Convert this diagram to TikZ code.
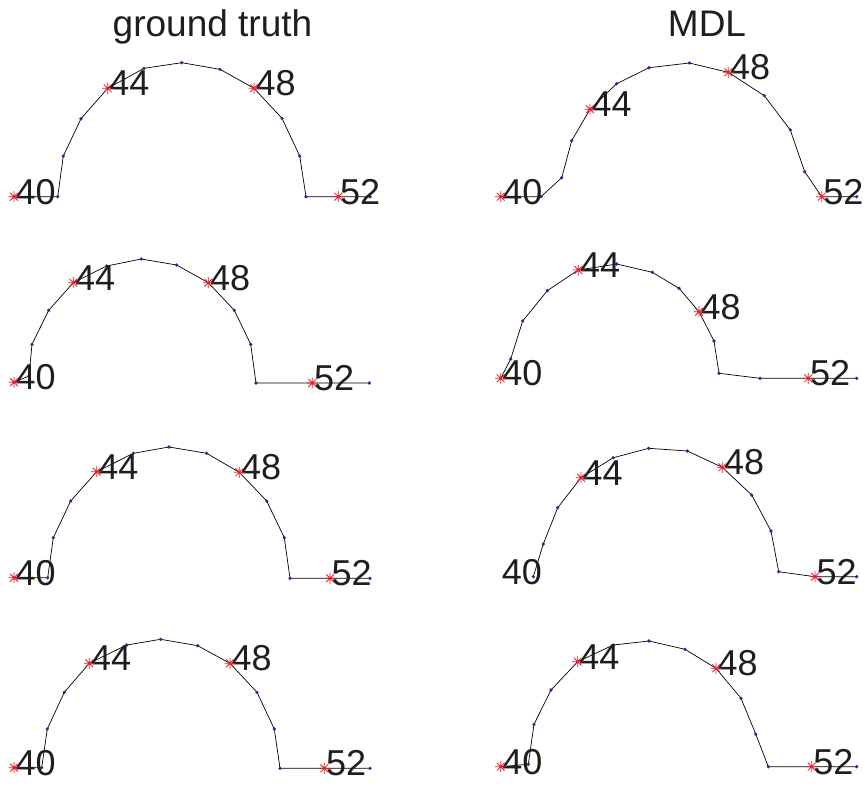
\documentclass[tikz,border=0pt]{standalone}
\usepackage{fontspec}
\setmainfont{Liberation Sans}
\definecolor{dotblue}{RGB}{40,40,150}
\definecolor{starred}{RGB}{232,30,40}
\definecolor{txt}{RGB}{30,30,30}
\newcommand\curvepanel[2]{%
  \foreach \xx/\yy [count=\k from 0] in {#2} {\coordinate (#1p\k) at (\xx,\yy);}
  \draw[curve] (#1p0) -- (#1p1) -- (#1p2) -- (#1p3) -- (#1p4) -- (#1p5) -- (#1p6) -- (#1p7) -- (#1p8) -- (#1p9) -- (#1p10) -- (#1p11) -- (#1p12) -- (#1p13);
  \foreach \k in {1,2,3,5,6,7,9,10,11,13} {\node[dot] (#1d\k) at (#1p\k) {};}
  \node[lbl] (#1l40) at (#1p0) {40};
  \node[lbl] (#1l44) at (#1p4) {44};
  \node[lbl] (#1l48) at (#1p8) {48};
  \node[lbl] (#1l52) at (#1p12) {52};
  \foreach \k in {0,4,8,12} {\pic at (#1p\k) {ast};}
}
\begin{document}
\begin{tikzpicture}[x=1pt,y=-1pt,
  curve/.style={black,line width=0.7pt},
  dot/.style={circle,fill=dotblue,draw=none,inner sep=0pt,minimum size=3.6pt},
  lbl/.style={anchor=base west,font=\fontsize{36}{40}\selectfont,text=txt,inner sep=0pt,xshift=1.5pt,yshift=-7.5pt},
  ttl/.style={anchor=base,font=\fontsize{37}{42}\selectfont,text=txt,inner sep=0pt},
  ast/.pic={\draw[starred,line width=0.8pt] (-5.5,0)--(5.5,0) (0,-5.5)--(0,5.5) (-3.9,-3.9)--(3.9,3.9) (-3.9,3.9)--(3.9,-3.9);}]
\useasboundingbox (0,0) rectangle (865,785);
\fill[white] (0,0) rectangle (865,785);

\node[ttl] (t1) at (212.5,36.7) {ground truth};
\node[ttl] (t2) at (707,36.7) {MDL};

% panel 1
\curvepanel{a}{14/196.7,57.7/196.7,63.3/156,81/118.7,107.7/88.3,144/68.3,181.7/62.7,220/69.3,254/88.3,282/118.3,299.7/156,306/196.7,338.3/196.7,370/196.7}
% panel 2
\curvepanel{b}{500.7/196.7,541/196.7,561.7/177.7,571.7/140.7,590/109.3,616.7/83.7,649/67.7,689.3/63,728.3/72.3,764.3/95.7,790.3/130,804.7/171.7,821.7/196.7,856.7/196.7}
% panel 3
\curvepanel{c}{14/382.3,29/376,32/344.3,48.7/310.3,73.3/282.7,106.7/266,141.3/259,176.7/265,208.3/282.7,234.3/310.3,250.7/344.3,256/383,312.3/383,369.3/383}
% panel 4
\curvepanel{d}{500.7/378.3,510.7/359,522.7/321,547.3/290.7,578.3/270,616.7/264,652.3/272.3,679/288.3,699/311.7,714/341,719/373.3,760/378.3,808.3/378.3,856.7/378.3}
% panel 5
\curvepanel{e}{14/577.7,47.7/577.7,53.3/537.7,70.7/501,96.7/471.7,133.3/453.3,169/447,206.7/453.3,239.3/472.3,266.7/501,284.3/537.7,290/578.3,330/578.3,370/578.3}
% panel 7
\curvepanel{g}{14/767.7,41.7/767.7,47.3/729,64.3/692.3,89.3/663.3,126.7/645,160.7/639.3,197.7/645.7,230/663.3,257/692.3,274.3/729,280/768.3,324.3/768.3,370/768.3}
% panel 8
\curvepanel{h}{500.7/766.7,528.3/764.3,534/724.3,551/690,577.7/661.7,613.3/645,649/641,685/649.3,716/668.3,741/698.3,755.7/734,768.3/766.7,811.7/766.7,856.7/766.7}

% panel 6 (no marker at 40)
\foreach \xx/\yy [count=\k from 1] in {533.3/576.7,543.3/544,557.7/507.7,581/477.7,613.3/457.7,648.7/448.3,687.3/451,722.3/467.3,751.7/495,771/531,778.7/571.7,815/576.7,856.7/576.7} {\coordinate (fp\k) at (\xx,\yy);}
\draw[curve] (fp1) -- (fp2) -- (fp3) -- (fp4) -- (fp5) -- (fp6) -- (fp7) -- (fp8) -- (fp9) -- (fp10) -- (fp11) -- (fp12) -- (fp13);
\foreach \k in {1,2,3,5,6,7,9,10,11,13} {\node[dot] (fd\k) at (fp\k) {};}
\coordinate (fp0) at (500.2,576.7);
\node[lbl] (fl40) at (fp0) {40};
\node[lbl] (fl44) at (fp4) {44};
\node[lbl] (fl48) at (fp8) {48};
\node[lbl] (fl52) at (fp12) {52};
\foreach \k in {4,8,12} {\pic at (fp\k) {ast};}
\end{tikzpicture}
\end{document}
